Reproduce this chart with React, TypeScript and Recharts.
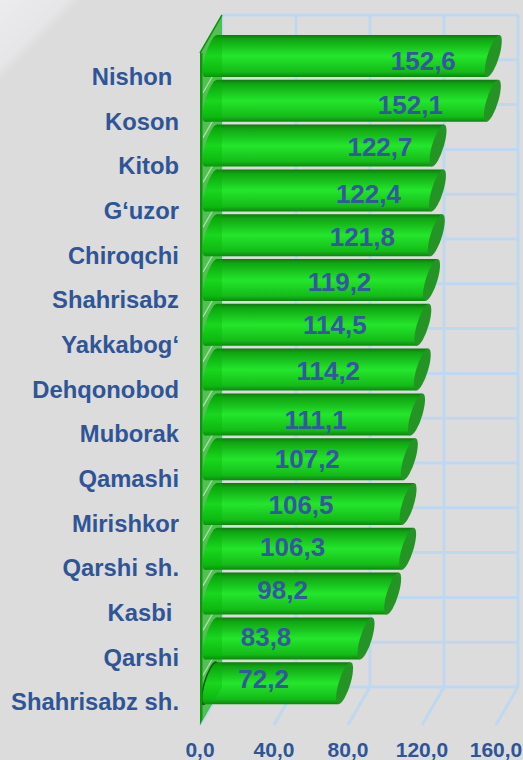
import { Bar, BarChart, CartesianGrid, LabelList, ReferenceArea, XAxis, YAxis } from "recharts";

const CATEGORIES = [
  "Nishon ",
  "Koson",
  "Kitob",
  "G‘uzor",
  "Chiroqchi",
  "Shahrisabz",
  "Yakkabog‘",
  "Dehqonobod",
  "Muborak",
  "Qamashi",
  "Mirishkor",
  "Qarshi sh.",
  "Kasbi ",
  "Qarshi",
  "Shahrisabz sh.",
];
const VALUES = [152.6, 152.1, 122.7, 122.4, 121.8, 119.2, 114.5, 114.2, 111.1, 107.2, 106.5, 106.3, 98.2, 83.8, 72.2];
const X_TICKS = [0, 40, 80, 120, 160];

// the value labels were placed by hand in the original, so each one has its own nudge from the bar end
const LABEL_NUDGE = [
  [-59, -14], [-71, -15], [-47, -18], [-58, -15], [-63, -17],
  [-81, -17], [-77, -19], [-83, -18], [-90, -13], [-91, -19],
  [-96, -18], [-104, -21], [-99, -23], [-89, -20], [-70, -23],
];

const chartData = CATEGORIES.map((name, i) => ({ name, value: VALUES[i] }));

const BLUE = "#2f5597";
const FONT = "'Liberation Sans', Arial, sans-serif";
const GRID = "#bfd8ef";
// 3D depth of the box: back wall sits this far from the front plane
const DEPTH_X = 22;
const DEPTH_Y = 38;
const CAP_RX = 6;
const CAP_LEAN = 6;

const fmt = (v: number) => v.toFixed(1).replace(".", ",");

const Cylinder = (props: any) => {
  const { x, y, width, height, index } = props;
  const left = x + DEPTH_X / 2;
  const right = left + width;
  const top = y - DEPTH_Y / 2;
  const bottom = top + height;
  const cy = (top + bottom) / 2;
  const skew = (-Math.atan(CAP_LEAN / (height / 2)) * 180) / Math.PI;
  const isLast = index === VALUES.length - 1;
  return (
    <g>
      {isLast && (
        <ellipse
          cx={0}
          cy={0}
          rx={CAP_RX}
          ry={height / 2 + 1}
          fill="#1c2a1c"
          transform={`translate(${left - 1.5},${cy}) skewX(${skew})`}
        />
      )}
      <path
        d={`M${left + CAP_LEAN},${top} L${right + CAP_LEAN},${top} L${right - CAP_LEAN},${bottom} L${left - CAP_LEAN},${bottom} Z`}
        fill="url(#cyl)"
      />
      <ellipse cx={0} cy={0} rx={CAP_RX} ry={height / 2} fill="url(#cyl)" transform={`translate(${left},${cy}) skewX(${skew})`} />
      <ellipse cx={0} cy={0} rx={CAP_RX} ry={height / 2} fill="#249424" transform={`translate(${right},${cy}) skewX(${skew})`} />
    </g>
  );
};

const CategoryTick = ({ x, y, payload, index }: any) => (
  <text
    x={x - 13}
    y={y + 9.5 - index * 0.13}
    textAnchor="end"
    fill={BLUE}
    fontFamily={FONT}
    fontWeight={700}
    fontSize={23.8}
    style={{ whiteSpace: "pre" }}
  >
    {payload.value}
  </text>
);

const ValueLabel = ({ x, y, width, height, value, index }: any) => (
  <text
    x={x + width + LABEL_NUDGE[index][0]}
    y={y + height / 2 + LABEL_NUDGE[index][1] + 9}
    textAnchor="middle"
    fill="#33589f"
    fontFamily={FONT}
    fontWeight={700}
    fontSize={26}
  >
    {fmt(value)}
  </text>
);

const BackVertical = ({ x1, y1, x2, y2 }: any) => (
  <g key={`v-${x1}`}>
    <line x1={x1 + DEPTH_X} y1={y1 - DEPTH_Y} x2={x2 + DEPTH_X} y2={y2 - DEPTH_Y} stroke={GRID} strokeWidth={3} />
    <line x1={x2} y1={y2} x2={x2 + DEPTH_X} y2={y2 - DEPTH_Y} stroke={GRID} strokeWidth={3} />
  </g>
);

const BackHorizontal = ({ x1, y1, x2, y2 }: any) => (
  <line
    key={`h-${y1}`}
    x1={x1 + DEPTH_X}
    y1={y1 - DEPTH_Y}
    x2={x2 + DEPTH_X}
    y2={y2 - DEPTH_Y}
    stroke={GRID}
    strokeWidth={3}
  />
);

// lines on the band edges, the category ticks themselves sit on the band centres
const bandEdges = ({ offset }: any) =>
  [...CATEGORIES, ""].map((_, i) => offset.top + (i * offset.height) / CATEGORIES.length);

const wallPath = (x: number, y: number, h: number) =>
  `M${x},${y} L${x + DEPTH_X},${y - DEPTH_Y} L${x + DEPTH_X},${y + h - DEPTH_Y} L${x},${y + h} Z`;

// side wall behind the bars, with a white seam per row
const SideWall = ({ x, y, height }: any) => {
  const rowH = height / CATEGORIES.length;
  return (
    <g>
      <path d={wallPath(x, y, height)} fill="#00aa00" fillOpacity={0.45} />
      {CATEGORIES.slice(1).map((name, i) => (
        <line
          key={name}
          x1={x + 3}
          y1={y + (i + 1) * rowH - 5}
          x2={x + DEPTH_X}
          y2={y + (i + 1) * rowH - DEPTH_Y}
          stroke="#ffffff"
          strokeOpacity={0.85}
          strokeWidth={1.3}
        />
      ))}
    </g>
  );
};

// the see-through part of the wall that tints the left end of the bars
const SideWallFront = ({ x, y, height }: any) => (
  <g>
    <path d={wallPath(x, y, height)} fill="#00b400" fillOpacity={0.3} />
    <path d={`M${x},${y} L${x + 2.5},${y} L${x + 2.5},${y + height - 6} L${x},${y + height} Z`} fill="#0c960c" />
    <line x1={x} y1={y} x2={x + DEPTH_X} y2={y - DEPTH_Y} stroke="#0c960c" strokeWidth={1.5} />
  </g>
);

const FIRST = CATEGORIES[0];
const LAST = CATEGORIES[CATEGORIES.length - 1];

export default function App() {
  return (
    <div
      style={{
        position: "absolute",
        left: 0,
        top: 0,
        width: 523,
        height: 760,
        overflow: "hidden",
        background: "linear-gradient(135deg, #ececee 0px, #e6e6e8 46px, #dcdcdc 58px)",
      }}
    >
      <BarChart
        width={523}
        height={760}
        data={chartData}
        layout="vertical"
        margin={{ top: 53, right: 27, bottom: 0, left: 0 }}
        barCategoryGap={0}
      >
        <defs>
          <linearGradient id="cyl" x1="0" y1="0" x2="0" y2="1">
            <stop offset="0" stopColor="#0d7a0d" />
            <stop offset="0.1" stopColor="#10a512" />
            <stop offset="0.5" stopColor="#24e62c" />
            <stop offset="0.88" stopColor="#14bb18" />
            <stop offset="1" stopColor="#0c860e" />
          </linearGradient>
        </defs>
        <CartesianGrid horizontal={BackHorizontal} vertical={BackVertical} horizontalCoordinatesGenerator={bandEdges} />
        <XAxis
          type="number"
          domain={[0, 160]}
          ticks={X_TICKS}
          interval={0}
          tickFormatter={fmt}
          axisLine={false}
          tickLine={false}
          height={35}
          tickMargin={11}
          tick={{ fill: BLUE, fontFamily: FONT, fontWeight: 700, fontSize: 21 }}
        />
        <YAxis type="category" dataKey="name" width={200} interval={0} axisLine={false} tickLine={false} tick={CategoryTick} />
        <ReferenceArea x1={0} x2={160} y1={FIRST} y2={LAST} ifOverflow="visible" shape={SideWall} zIndex={250} />
        <Bar dataKey="value" barSize={42} isAnimationActive={false} shape={Cylinder}>
          <LabelList dataKey="value" content={ValueLabel} />
        </Bar>
        <ReferenceArea x1={0} x2={160} y1={FIRST} y2={LAST} ifOverflow="visible" shape={SideWallFront} zIndex={1000} />
      </BarChart>
    </div>
  );
}
